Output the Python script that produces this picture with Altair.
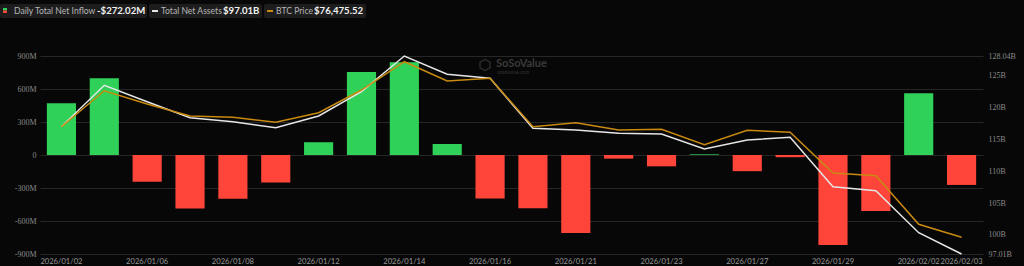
import altair as alt
import pandas as pd

dates = ["2026/01/02", "2026/01/05", "2026/01/06", "2026/01/07", "2026/01/08", "2026/01/09",
         "2026/01/12", "2026/01/13", "2026/01/14", "2026/01/15", "2026/01/16",
         "2026/01/20", "2026/01/21", "2026/01/22", "2026/01/23",
         "2026/01/26", "2026/01/27", "2026/01/28", "2026/01/29", "2026/01/30",
         "2026/02/02", "2026/02/03"]
inflow_m = [471, 697, -243, -486, -398, -250,
            116, 754, 844, 100, -395,
            -483, -708, -33, -103,
            6, -147, -20, -818, -510,
            562, -272.02]
total_assets_b = [116.96, 123.45, 120.88, 118.37, 117.74, 116.80,
                  118.64, 122.45, 128.04, 125.17, 124.54,
                  116.71, 116.44, 115.93, 115.82,
                  113.46, 114.88, 115.30, 107.56, 106.93,
                  100.35, 97.01]
btc_price = [89402, 93610, 92055, 90653, 90501, 89916,
             91038, 93691, 97000, 94743, 95059,
             89402, 89869, 89016, 89098,
             87298, 88981, 88747, 83990, 83675,
             77994, 76475.52]
shown_dates = ["2026/01/02", "2026/01/06", "2026/01/08", "2026/01/12", "2026/01/14", "2026/01/16",
               "2026/01/21", "2026/01/23", "2026/01/27", "2026/01/29", "2026/02/02", "2026/02/03"]
left_ticks = [-900, -600, -300, 0, 300, 600, 900]
right_ticks = [97.01, 100, 105, 110, 115, 120, 125, 128.04]

df = pd.DataFrame({"date": dates, "inflow": inflow_m, "assets": total_assets_b, "btc": btc_price})

GREEN = "#30d158"
RED = "#ff453a"
WHITE = "#e6e6e6"
ORANGE = "#c98a10"
LBL = "#8a8a8a"

x_enc = alt.X("date:O", sort=None, title=None,
              scale=alt.Scale(paddingInner=0.32, paddingOuter=0.16),
              axis=alt.Axis(values=shown_dates, labelAngle=0, labelColor="#9a9a9a", labelFontSize=7.6,
                            labelFont="Lato", domain=False, ticks=False, grid=False, labelPadding=3,
                            labelOverlap=False))

bars = alt.Chart(df).mark_bar().encode(
    x=x_enc,
    y=alt.Y("inflow:Q", title=None,
            scale=alt.Scale(domain=[-900, 900], nice=False, zero=False),
            axis=alt.Axis(orient="left", values=left_ticks, domain=False, ticks=False,
                          gridColor="#262626", gridWidth=1, labelColor=LBL, labelFontSize=8,
                          labelFont="Liberation Serif", labelPadding=4, labelFlush=False,
                          labelOverlap=False,
                          labelExpr="datum.value == 0 ? '0' : datum.value + 'M'")),
    color=alt.condition("datum.inflow >= 0", alt.value(GREEN), alt.value(RED)),
)

assets = alt.Chart(df).mark_line(color=WHITE, strokeWidth=1.5).encode(
    x=x_enc,
    y=alt.Y("assets:Q", title=None,
            scale=alt.Scale(domain=[97.01, 128.04], nice=False, zero=False),
            axis=alt.Axis(orient="right", values=right_ticks, domain=False, ticks=False, grid=False,
                          labelColor=LBL, labelFontSize=8, labelFont="Liberation Serif",
                          labelPadding=5, labelFlush=False, labelOverlap=False,
                          labelExpr="format(datum.value, '.2~f') + 'B'")),
)

btc = alt.Chart(df).mark_line(color=ORANGE, strokeWidth=1.5).encode(
    x=x_enc,
    y=alt.Y("btc:Q", title=None, axis=None,
            scale=alt.Scale(domain=[74523, 97669], nice=False, zero=False)),
)

# decorations (legend chips and watermark)
def rect(x1, x2, y1, y2, color, r=0):
    return alt.Chart(df).transform_filter("datum.date == '2026/01/02'").mark_rect(
        color=color, cornerRadius=r).encode(
        x=alt.value(x1 - 40), x2=alt.value(x2 - 40), y=alt.value(y1 - 56), y2=alt.value(y2 - 56))

def text(x, y, s, size, color, weight="normal", font="Lato", align="left"):
    return alt.Chart(df).transform_filter("datum.date == '2026/01/02'").mark_text(
        align=align, baseline="middle", fontSize=size, color=color, fontWeight=weight, font=font
    ).encode(x=alt.value(x - 40), y=alt.value(y - 56), text=alt.value(s))

deco = [
    rect(0, 147, 4, 18, "#1d1d1d", 2),
    rect(149, 262, 4, 18, "#1d1d1d", 2),
    rect(264, 366, 4, 18, "#1d1d1d", 2),
    rect(3, 7, 8, 10.5, GREEN),
    rect(3, 7, 10.5, 13, RED),
    rect(152, 158, 10, 12, WHITE),
    rect(267, 273, 10, 12, ORANGE),
    text(14, 11, "Daily Total Net Inflow", 8.6, "#b5b5b5"),
    text(97, 11, "-$272.02M", 9.6, "#f2f2f2", "bold"),
    text(161, 11, "Total Net Assets", 8.6, "#b5b5b5"),
    text(223, 11, "$97.01B", 9.6, "#f2f2f2", "bold"),
    text(276, 11, "BTC Price", 8.6, "#b5b5b5"),
    text(314, 11, "$76,475.52", 9.6, "#f2f2f2", "bold"),
    text(496, 64, "SoSoValue", 11, "#3a3a3a", "bold"),
    text(497, 72, "sosovalue.com", 5, "#333333"),
    alt.Chart(df).transform_filter("datum.date == '2026/01/02'").mark_point(
        shape="M0,-1L0.87,-0.5L0.87,0.5L0,1L-0.87,0.5L-0.87,-0.5Z", size=130, stroke="#3a3a3a",
        strokeWidth=1.5, filled=False).encode(x=alt.value(485 - 40), y=alt.value(65 - 56)),
]

chart = alt.layer(bars, assets, btc, *deco).resolve_scale(y="independent").properties(
    width=943, height=198,
    autosize=alt.AutoSizeParams(type="none"),
    padding={"left": 40, "top": 56, "right": 41, "bottom": 12},
    background="#070707",
).configure_view(stroke=None)

chart.save("out.html", embed_options={"renderer": "svg", "actions": False})
